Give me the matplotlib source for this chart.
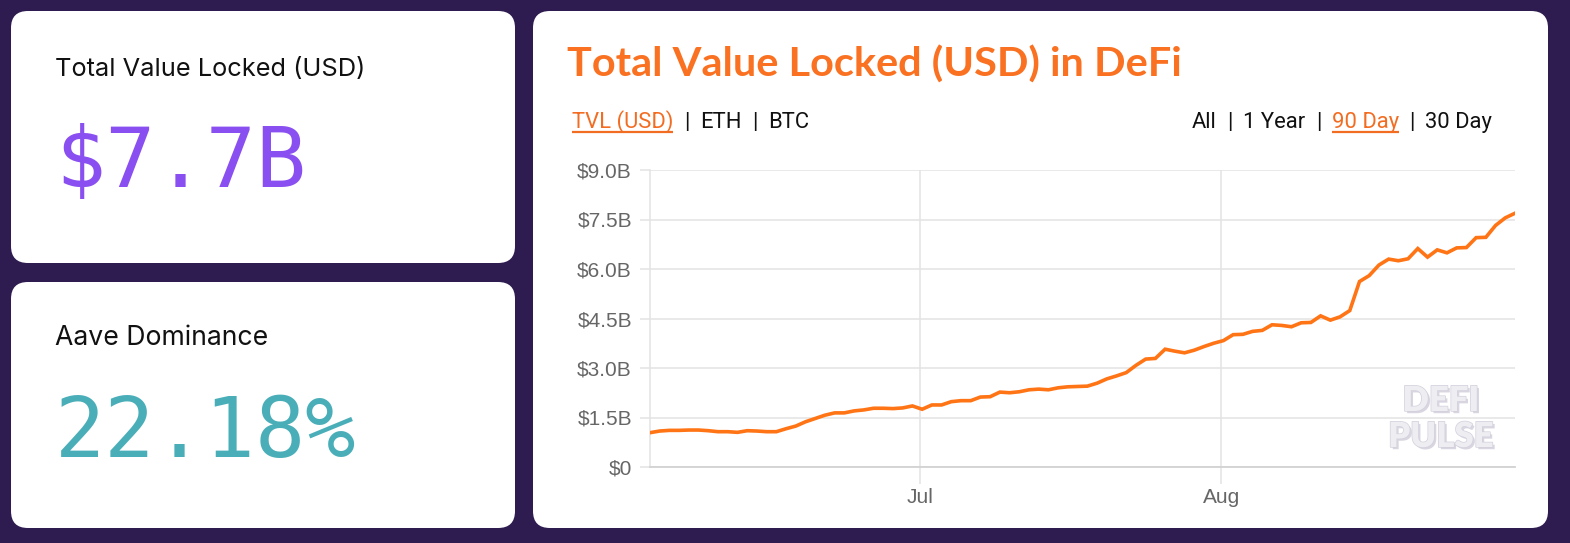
import matplotlib
matplotlib.use('Agg')
import matplotlib.pyplot as plt
import matplotlib.dates as mdates
import matplotlib.patheffects as pe
from matplotlib.patches import FancyBboxPatch
from matplotlib.ticker import FuncFormatter
import pandas as pd

# daily TVL in billions USD
tvl = [1.04, 1.09, 1.11, 1.11, 1.12, 1.12, 1.10, 1.07, 1.07, 1.05,
       1.10, 1.09, 1.07, 1.07, 1.16, 1.24, 1.37, 1.47, 1.57, 1.64,
       1.64, 1.70, 1.73, 1.78, 1.78, 1.77, 1.79, 1.85, 1.75, 1.88,
       1.88, 1.98, 2.01, 2.01, 2.12, 2.13, 2.27, 2.25, 2.28, 2.34,
       2.36, 2.34, 2.40, 2.43, 2.44, 2.45, 2.54, 2.67, 2.76, 2.86,
       3.08, 3.27, 3.29, 3.57, 3.51, 3.46, 3.54, 3.65, 3.75, 3.83,
       4.01, 4.02, 4.11, 4.14, 4.31, 4.29, 4.25, 4.37, 4.38, 4.58,
       4.45, 4.55, 4.74, 5.62, 5.80, 6.12, 6.30, 6.25, 6.31, 6.62,
       6.36, 6.58, 6.49, 6.64, 6.65, 6.95, 6.96, 7.32, 7.55, 7.69]
dates = pd.date_range('2020-06-03 05:00', periods=len(tvl), freq='D')
yticks = [0, 1.5, 3.0, 4.5, 6.0, 7.5, 9.0]

tvl_label = 'Total Value Locked (USD)'
tvl_value = '$7.7B'
dom_label = 'Aave Dominance'
dom_value = '22.18%'
title = 'Total Value Locked (USD) in DeFi'
unit_tabs = ['TVL (USD)', '|', 'ETH', '|', 'BTC']
range_tabs = ['All', '|', '1 Year', '|', '90 Day', '|', '30 Day']

BG = '#2e1b4f'
ORANGE = '#f97121'
LINK = '#f26d22'

fig = plt.figure(figsize=(15.7, 5.43), dpi=100)
fig.patch.set_facecolor(BG)
bg = fig.add_axes([0, 0, 1, 1])
bg.set_xlim(0, 1570)
bg.set_ylim(543, 0)
bg.axis('off')
r = fig.canvas.get_renderer()

# cards
rad = 17
for x0, y0, x1, y1 in [(11, 11, 515, 263), (11, 282, 515, 528), (533, 11, 1548, 528)]:
    bg.add_patch(FancyBboxPatch((x0 + rad, y0 + rad), x1 - x0 - 2 * rad, y1 - y0 - 2 * rad,
                                boxstyle='round,pad=%d' % rad, fc='white', ec='none'))


def fit(t, width):
    w = t.get_window_extent(r).width
    t.set_fontsize(t.get_fontsize() * width / w)


# left cards
t = bg.text(55, 76, tvl_label, fontsize=16, family='Inter', color='#111111', va='baseline')
fit(t, 311)
bg.text(55, 187, tvl_value, fontsize=60, family='DejaVu Sans Mono', color='#8a4ff0', va='baseline')
t = bg.text(55, 345, dom_label, fontsize=16, family='Inter', color='#111111', va='baseline')
fit(t, 214)
bg.text(55, 457, dom_value, fontsize=60, family='DejaVu Sans Mono', color='#4aaeb9', va='baseline')

# chart header
t = bg.text(567, 77, title, fontsize=26, family='Lato', weight='bold', color=ORANGE, va='baseline')
fit(t, 615)


def text_row(x, y, parts, active, align='left', gap=10.5):
    items = []
    for s in parts:
        c = LINK if s == active else '#111111'
        t = bg.text(0, y, s, fontsize=15.8, family='Roboto', color=c, va='baseline')
        items.append((t, t.get_window_extent(r).width, s == active))
    total = sum(w for _, w, _ in items) + gap * (len(items) - 1)
    if align == 'right':
        x = x - total
    for t, w, u in items:
        t.set_x(x)
        if u:
            bg.plot([x, x + w], [y + 4, y + 4], color=LINK, lw=1.6, solid_capstyle='butt')
        x += w + gap


text_row(572, 128, unit_tabs, 'TVL (USD)')
text_row(1492, 128, range_tabs, '90 Day', align='right')

# watermark (drawn under the transparent chart axes)
wm = [pe.withSimplePatchShadow(offset=(1.6, -1.6), shadow_rgbFace='#d9d6e1', alpha=1),
      pe.withStroke(linewidth=1.0, foreground='#d3d0dc')]
bg.text(1441, 411, 'DEFI', fontsize=25, family='Lato', weight='heavy', color='#eeedf2',
        ha='center', va='baseline', path_effects=wm, zorder=5)
bg.text(1441, 447, 'PULSE', fontsize=25, family='Lato', weight='heavy', color='#eeedf2',
        ha='center', va='baseline', path_effects=wm, zorder=5)

# line chart
ax = fig.add_axes([650 / 1570, (543 - 467) / 543, 865 / 1570, 297 / 543])
ax.patch.set_alpha(0)
ax.plot(dates, tvl, color='#ff7415', lw=2.6, solid_joinstyle='miter', zorder=3)
ax.set_ylim(0, 9.0)
ax.set_xlim(dates[0], dates[-1])
ax.set_yticks(yticks)
ax.yaxis.set_major_formatter(FuncFormatter(lambda v, p: '$0' if v == 0 else '$%.1fB' % v))
ax.xaxis.set_major_locator(mdates.MonthLocator())
ax.xaxis.set_major_formatter(mdates.DateFormatter('%b'))
ax.grid(True, color='#e3e3e3', lw=1.1)
ax.set_axisbelow(True)
for s in ['top', 'right']:
    ax.spines[s].set_visible(False)
ax.spines['left'].set_color('#e3e3e3')
ax.spines['bottom'].set_color('#d2d2d2')
ax.spines['left'].set_linewidth(1.1)
ax.spines['bottom'].set_linewidth(1.3)
ax.tick_params(axis='y', length=7.2, width=1.1, color='#e3e3e3', pad=5.8,
               labelsize=15, labelcolor='#666666')
ax.tick_params(axis='x', length=12.2, width=1.1, color='#e3e3e3', pad=3,
               labelsize=15, labelcolor='#666666')
for lab in ax.get_xticklabels() + ax.get_yticklabels():
    lab.set_family('Liberation Sans')

fig.savefig('out.png', dpi=100, facecolor=BG)
